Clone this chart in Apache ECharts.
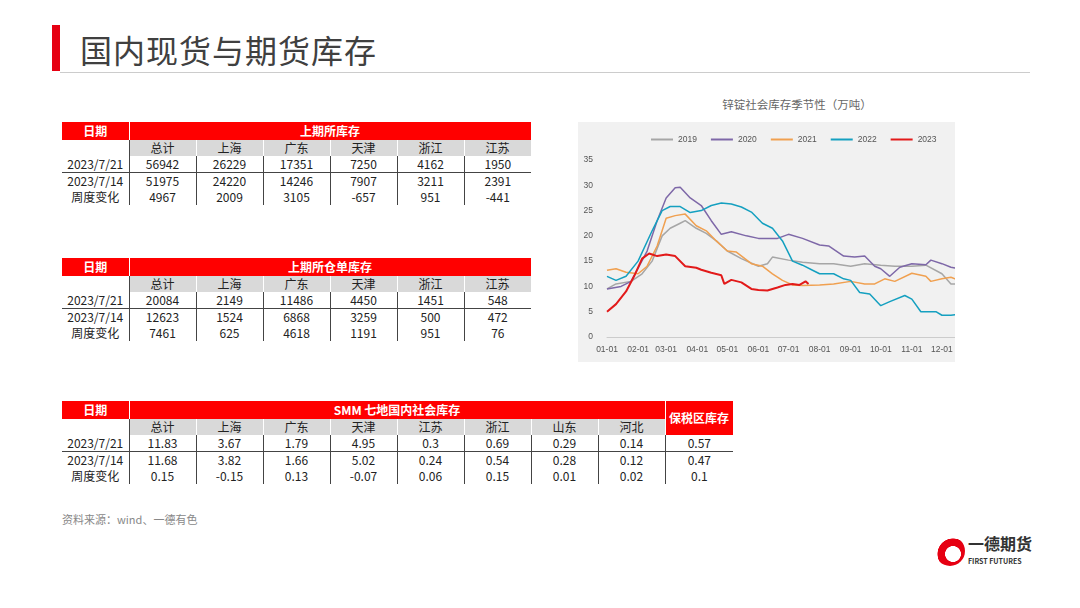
<!DOCTYPE html>
<html><head><meta charset="utf-8">
<script src="https://cdn.jsdelivr.net/npm/echarts@6/dist/echarts.min.js"></script>
<style>
body{margin:0;width:1080px;height:608px;background:#fff;position:relative;font-family:"Noto Sans CJK SC","Noto Sans",sans-serif;overflow:hidden}
.abs{position:absolute}
table{border-collapse:collapse;position:absolute;font-size:12px;color:#222;table-layout:fixed}
td{height:16px;padding:0;text-align:center;border-right:1px solid #444;line-height:16px}
td:last-child{border-right:none}
.hd td{background:#f00;color:#fff;font-weight:bold;height:18px;border-right:1px solid #fff}
.sub td{background:#d9d9d9;border-right:1px solid #fff}
.sub td:first-child{background:#fff;border-right:1px solid #444}
tr.r1 td{border-bottom:1px solid #444}
</style></head><body>
<div class="abs" style="left:52px;top:25px;width:8px;height:46px;background:#e60012"></div>
<div class="abs" style="left:80px;top:26px;font-size:32px;color:#404040;letter-spacing:1px">国内现货与期货库存</div>
<div class="abs" style="left:60px;top:72px;width:970px;height:1px;background:#ccc"></div>
<div id="tables"></div>
<div class="abs" style="left:62px;top:511px;font-size:11px;color:#888">资料来源：wind、一德有色</div>
<div class="abs" style="left:578px;top:96px;width:438px;text-align:center;font-size:11.5px;color:#666">锌锭社会库存季节性（万吨）</div>
<div class="abs" style="left:578px;top:122px;width:377px;height:240px;overflow:hidden;background:#f1f1f1">
  <div id="c" style="width:420px;height:240px"></div>
</div>
<div class="abs" style="left:935px;top:536px;width:30px;height:30px;border-radius:50%;background:radial-gradient(circle at 60% 60%,#fff 30%,#e60012 32%,#e60012 60%,#fff 62%)"></div>
<div class="abs" style="left:968px;top:533px;font-size:16px;line-height:20px;font-weight:bold;color:#333">一德期货</div>
<div class="abs" style="left:968px;top:557px;font-size:7px;line-height:9px;font-weight:bold;color:#333">FIRST FUTURES</div>
<script>
const t1Cols=['总计','上海','广东','天津','浙江','江苏'];
const t1Rows=[['2023/7/21',56942,26229,17351,7250,4162,1950],['2023/7/14',51975,24220,14246,7907,3211,2391],['周度变化',4967,2009,3105,-657,951,-441]];
const t2Rows=[['2023/7/21',20084,2149,11486,4450,1451,548],['2023/7/14',12623,1524,6868,3259,500,472],['周度变化',7461,625,4618,1191,951,76]];
const t3Cols=['总计','上海','广东','天津','江苏','浙江','山东','河北'];
const t3Rows=[['2023/7/21',11.83,3.67,1.79,4.95,0.3,0.69,0.29,0.14,0.57],['2023/7/14',11.68,3.82,1.66,5.02,0.24,0.54,0.28,0.12,0.47],['周度变化',0.15,-0.15,0.13,-0.07,0.06,0.15,0.01,0.02,0.1]];

function mk(top,title,cols,rows,extra){
  let n=cols.length;
  let h='<table style="left:62px;top:'+top+'px;width:'+(67+67*n+(extra?68:0))+'px"><colgroup><col style="width:67px">'+cols.map(()=>'<col style="width:67px">').join('')+(extra?'<col style="width:68px">':'')+'</colgroup>';
  h+='<tr class="hd"><td>日期</td><td colspan="'+n+'">'+title+'</td>'+(extra?'<td rowspan="2" style="border-left:1px solid #fff">'+extra+'</td>':'')+'</tr>';
  h+='<tr class="sub"><td></td>'+cols.map(c=>'<td>'+c+'</td>').join('')+'</tr>';
  rows.forEach((r,i)=>{h+='<tr class="'+(i==0?'r1':'')+'">'+r.map(v=>'<td>'+v+'</td>').join('')+'</tr>';});
  return h+'</table>';
}
document.getElementById('tables').innerHTML=mk(122,'上期所库存',t1Cols,t1Rows)+mk(258,'上期所仓单库存',t1Cols,t2Rows)+mk(401,'SMM 七地国内社会库存',t3Cols,t3Rows,'保税区库存');

const days=[];const md=[31,28,31,30,31,30,31,31,30,31,30,31];
md.forEach((n,m)=>{for(let d=1;d<=n;d++)days.push(String(m+1).padStart(2,'0')+'-'+String(d).padStart(2,'0'));});
const s2019=[['01-01',9.5],['01-10',10.5],['01-25',11],['02-05',12.5],['02-15',15],['02-25',20],['03-05',21.5],['03-15',22.5],['03-20',23],['03-31',21.5],['04-10',20.5],['04-20',19],['05-01',17],['05-15',15.5],['06-01',14],['06-10',14.5],['06-15',15.8],['07-01',15.2],['07-15',14.8],['08-01',14.5],['08-15',14.5],['09-01',14],['09-15',14.5],['10-01',14.2],['10-15',14],['11-01',14],['11-15',14.2],['12-01',12.5],['12-10',10.5],['12-18',10.5]];
const s2020=[['01-01',9.5],['01-15',10],['01-25',11],['02-10',17],['02-20',23],['03-01',27.5],['03-10',29.5],['03-15',29.6],['03-25',27.5],['04-05',26],['04-15',23],['04-25',20.3],['05-05',20.8],['05-20',20],['06-01',19.5],['06-10',19.5],['06-20',19.5],['07-01',20.3],['07-15',19.5],['08-01',18.2],['08-10',18],['08-25',16],['09-05',15.8],['09-15',16],['09-25',14],['10-01',13.5],['10-10',12],['10-20',13.8],['11-01',14.5],['11-15',14.3],['11-20',15.2],['12-01',14.5],['12-10',13.8],['12-18',13.5]];
const s2021=[['01-01',13.2],['01-10',13.5],['01-20',12.8],['02-01',12.5],['02-10',14],['02-20',18],['03-01',23.5],['03-10',24],['03-20',24.3],['03-31',22],['04-10',21],['04-20',19],['05-01',17],['05-10',16.8],['05-25',14.5],['06-05',14],['06-15',12.5],['06-25',11.2],['07-05',10.3],['07-15',10.2],['08-01',10.3],['08-15',10.5],['09-01',11],['09-15',10.5],['09-25',10.5],['10-05',11.5],['10-15',11],['11-01',12.6],['11-15',12],['11-20',11],['12-01',11.5],['12-10',11.8],['12-18',11.2]];
const s2022=[['01-01',12],['01-10',11.2],['01-20',12],['02-01',15],['02-15',21],['02-25',25],['03-05',25.8],['03-15',25.8],['03-25',24.6],['04-05',25],['04-15',26],['04-25',26.5],['05-05',26.3],['05-15',25.7],['05-25',24.7],['06-05',22.5],['06-15',21.5],['06-25',19],['07-05',15],['07-15',14.2],['07-25',13.2],['08-01',12.5],['08-15',12.5],['08-25',11.5],['09-01',11.2],['09-10',8.8],['09-20',8.5],['10-01',6.2],['10-10',7],['10-25',8.2],['11-01',7.5],['11-10',5],['11-25',5],['12-01',4.3],['12-10',4.3],['12-18',4.5]];
const s2023=[['01-01',5],['01-10',6.5],['01-20',9],['01-28',12],['02-05',15.5],['02-12',16.5],['02-20',16],['03-01',16.3],['03-10',16],['03-20',14],['03-31',13.7],['04-05',13.3],['04-15',12.7],['04-25',12.2],['04-28',10.5],['05-05',11.3],['05-15',10.8],['05-25',9.5],['06-01',9.3],['06-10',9.2],['06-20',9.8],['06-28',10.3],['07-05',10.5],['07-12',10.3],['07-18',11],['07-21',10.5]];
const names=['2019','2020','2021','2022','2023'];
const colors=['#a6a6a6','#7e68a8','#f0a050','#15a0c0','#e21a1a'];
const all=[s2019,s2020,s2021,s2022,s2023];
const ch=echarts.init(document.getElementById('c'));
ch.setOption({
  animation:false,
  legend:{top:8,left:68,itemWidth:22,itemHeight:2,itemGap:14,icon:'rect',textStyle:{fontSize:8.5,color:'#555'},data:names},
  grid:{left:29,top:38,width:365,height:177},
  xAxis:{type:'category',data:days,boundaryGap:false,axisTick:{show:false},axisLine:{lineStyle:{color:'#ccc'}},
    axisLabel:{fontSize:8.5,color:'#555',interval:(i,v)=>v.endsWith('-01'),hideOverlap:false,showMaxLabel:true}},
  yAxis:{type:'value',min:0,max:35,interval:5,splitLine:{show:false},axisLine:{show:false},axisLabel:{fontSize:8.5,color:'#555',margin:14}},
  series:all.map((d,i)=>({name:names[i],type:'line',data:d,symbol:'none',lineStyle:{width:i==4?2:1.5,color:colors[i]},itemStyle:{color:colors[i]},z:i==4?5:2}))
});
</script></body></html>
